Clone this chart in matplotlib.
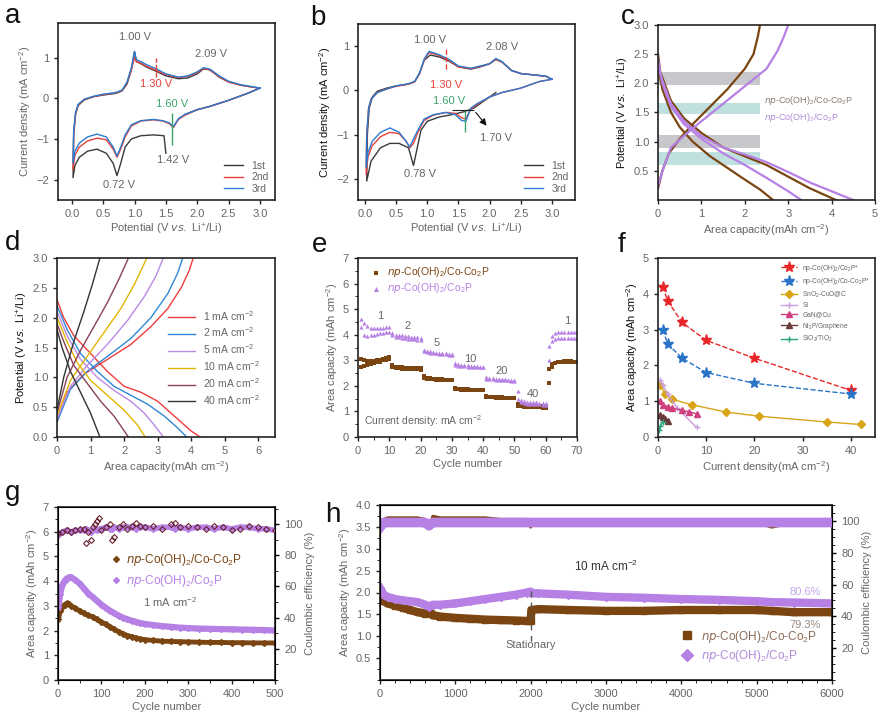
import matplotlib
matplotlib.use('Agg')
import matplotlib.pyplot as plt
from matplotlib.ticker import MultipleLocator, AutoMinorLocator

plt.rcParams['font.family'] = ['Liberation Sans', 'DejaVu Sans']
plt.rcParams['mathtext.default'] = 'regular'

W, H = 884, 727
GREY = '#666666'

# ---------------- panel a : CV of np-Co(OH)2/Co-Co2P ----------------
cv_v = [3.0, 2.8, 2.5, 2.2, 2.0, 1.8, 1.7, 1.62, 1.55, 1.45, 1.3, 1.1, 0.95, 0.85, 0.78, 0.72,
        0.66, 0.55, 0.4, 0.25, 0.12, 0.05, 0.02, 0.03, 0.06, 0.1, 0.2, 0.35, 0.5, 0.7, 0.8, 0.88,
        0.95, 1.0, 1.03, 1.1, 1.2, 1.35, 1.5, 1.7, 1.85, 2.0, 2.1, 2.2, 2.35, 2.5, 2.7, 2.9, 3.0]
a_2nd = [0.25, 0.12, -0.05, -0.2, -0.28, -0.42, -0.52, -0.72, -0.62, -0.56, -0.53, -0.56, -0.68,
         -0.95, -1.25, -1.45, -1.25, -1.02, -0.98, -1.05, -1.2, -1.4, -1.75, -0.85, -0.38, -0.17,
         -0.03, 0.04, 0.09, 0.13, 0.19, 0.38, 0.7, 1.0, 0.9, 0.86, 0.78, 0.68, 0.58, 0.51, 0.54,
         0.63, 0.73, 0.7, 0.53, 0.4, 0.32, 0.27, 0.25]
a_3rd = [0.25, 0.12, -0.05, -0.2, -0.28, -0.4, -0.5, -0.7, -0.6, -0.55, -0.52, -0.55, -0.65,
         -0.9, -1.2, -1.42, -1.2, -0.95, -0.88, -0.95, -1.1, -1.3, -1.6, -0.8, -0.35, -0.15,
         -0.02, 0.05, 0.1, 0.14, 0.2, 0.4, 0.75, 1.15, 0.95, 0.9, 0.82, 0.72, 0.6, 0.52, 0.55,
         0.65, 0.75, 0.72, 0.55, 0.42, 0.33, 0.28, 0.25]
a1_v = [1.5, 1.47, 1.3, 1.1, 0.95, 0.85, 0.78, 0.72, 0.66, 0.55, 0.4, 0.25, 0.12, 0.05, 0.02,
        0.03, 0.06, 0.1, 0.2, 0.35, 0.5, 0.7, 0.8, 0.88, 0.95, 1.0, 1.03, 1.1, 1.2, 1.35, 1.5,
        1.7, 1.85, 2.0, 2.1, 2.2, 2.35, 2.5, 2.7, 2.9, 3.0, 2.8, 2.5, 2.2, 2.0, 1.8]
a1_i = [-1.35, -0.92, -0.9, -0.92, -1.0, -1.2, -1.6, -1.9, -1.6, -1.35, -1.25, -1.3, -1.45,
        -1.65, -1.95, -0.9, -0.4, -0.18, -0.04, 0.04, 0.08, 0.12, 0.18, 0.35, 0.7, 1.15, 0.9,
        0.85, 0.76, 0.66, 0.55, 0.48, 0.5, 0.6, 0.72, 0.7, 0.52, 0.4, 0.32, 0.27, 0.25, 0.12,
        -0.05, -0.2, -0.28, -0.4]

# ---------------- panel b : CV of np-Co(OH)2/Co2P ----------------
b_2nd = [0.25, 0.2, 0.05, -0.05, -0.15, -0.32, -0.42, -0.65, -0.62, -0.52, -0.5, -0.56, -0.68,
         -0.95, -1.2, -1.3, -1.15, -0.98, -0.95, -1.05, -1.25, -1.5, -1.9, -1.0, -0.4, -0.2,
         -0.05, 0.03, 0.09, 0.14, 0.19, 0.38, 0.68, 0.8, 0.85, 0.83, 0.78, 0.68, 0.53, 0.49,
         0.54, 0.6, 0.7, 0.64, 0.45, 0.38, 0.35, 0.32, 0.25]
b_3rd = [0.25, 0.2, 0.05, -0.05, -0.15, -0.3, -0.4, -0.7, -0.68, -0.55, -0.5, -0.55, -0.65,
         -0.9, -1.1, -1.28, -1.15, -0.95, -0.85, -0.95, -1.15, -1.4, -1.75, -1.0, -0.4, -0.2,
         -0.05, 0.03, 0.1, 0.15, 0.2, 0.4, 0.7, 0.82, 0.88, 0.85, 0.8, 0.7, 0.55, 0.5, 0.55,
         0.6, 0.72, 0.65, 0.45, 0.38, 0.35, 0.32, 0.25]
b1_v = [2.1, 1.9, 1.75, 1.6, 1.4, 1.2, 1.0, 0.9, 0.84, 0.78, 0.7, 0.55, 0.4, 0.25, 0.1, 0.03,
        0.04, 0.07, 0.12, 0.2, 0.35, 0.5, 0.7, 0.8, 0.88, 0.95, 1.05, 1.2, 1.35, 1.5, 1.7, 1.85,
        2.0, 2.1, 2.2, 2.35, 2.5, 2.7, 2.9, 3.0]
b1_i = [-0.05, -0.25, -0.4, -0.48, -0.55, -0.6, -0.7, -0.9, -1.3, -1.7, -1.3, -1.2, -1.2, -1.3,
        -1.6, -2.05, -1.0, -0.4, -0.15, -0.02, 0.05, 0.1, 0.14, 0.2, 0.4, 0.68, 0.8, 0.75, 0.66,
        0.53, 0.48, 0.53, 0.6, 0.7, 0.64, 0.45, 0.38, 0.35, 0.32, 0.25]
cv_labels = ['1st', '2nd', '3rd']
cv_colors = ['#3a3a3a', '#e8413a', '#2b7bd0']

# ---------------- panel c : charge/discharge profiles ----------------
c_dis1_x = [0, 0.05, 0.15, 0.3, 0.6, 1.0, 1.5, 2.0, 2.5, 3.0, 3.5, 4.1]
c_dis1_y = [2.5, 2.2, 2.0, 1.7, 1.4, 1.15, 0.9, 0.75, 0.6, 0.4, 0.2, 0.0]
c_dis2_x = [0, 0.1, 0.3, 0.5, 0.8, 1.2, 1.6, 2.0, 2.35, 2.65]
c_dis2_y = [2.3, 1.9, 1.5, 1.25, 1.0, 0.75, 0.55, 0.35, 0.18, 0.0]
c_chg_x = [0, 0.1, 0.25, 0.5, 0.8, 1.2, 1.6, 2.0, 2.2, 2.3, 2.35]
c_chg_y = [0.2, 0.5, 0.8, 1.05, 1.3, 1.6, 1.9, 2.25, 2.5, 2.8, 3.0]
p_dis1_x = [0, 0.1, 0.3, 0.6, 1.0, 1.5, 2.0, 2.5, 3.0, 3.5, 4.0, 4.5]
p_dis1_y = [2.3, 2.05, 1.65, 1.35, 1.1, 0.9, 0.78, 0.65, 0.48, 0.3, 0.15, 0.0]
p_dis2_x = [0, 0.1, 0.3, 0.6, 1.0, 1.5, 2.0, 2.5, 3.0, 3.3]
p_dis2_y = [2.4, 2.0, 1.6, 1.3, 1.05, 0.8, 0.6, 0.38, 0.15, 0.0]
p_chg_x = [0, 0.15, 0.3, 0.6, 1.0, 1.5, 2.0, 2.5, 2.75, 2.9, 3.0]
p_chg_y = [0.25, 0.6, 0.9, 1.1, 1.35, 1.65, 1.95, 2.25, 2.55, 2.8, 3.0]
grey_bands = [(1.97, 2.2), (0.9, 1.12)]
teal_bands = [(1.47, 1.67), (0.6, 0.83)]

# ---------------- panel d : rate profiles ----------------
d_labels = ['1 mA cm$^{-2}$', '2 mA cm$^{-2}$', '5 mA cm$^{-2}$',
            '10 mA cm$^{-2}$', '20 mA cm$^{-2}$', '40 mA cm$^{-2}$']
d_colors = ['#f03c3c', '#2f86d6', '#b98ae6', '#e3b500', '#8a3f5a', '#333333']
d_dis_x = [[0, 0.2, 0.5, 1.0, 1.5, 2.0, 2.5, 3.0, 3.5, 4.0, 4.27],
           [0, 0.3, 0.7, 1.2, 1.7, 2.2, 2.7, 3.2, 3.6, 3.87],
           [0, 0.3, 0.7, 1.2, 1.7, 2.2, 2.6, 2.9, 3.17],
           [0, 0.3, 0.6, 1.0, 1.5, 2.0, 2.4, 2.63],
           [0, 0.2, 0.5, 0.9, 1.3, 1.7, 2.13],
           [0, 0.15, 0.4, 0.7, 1.0, 1.28]]
d_dis_y = [[2.3, 2.0, 1.7, 1.4, 1.1, 0.85, 0.75, 0.6, 0.35, 0.1, 0.0],
           [2.2, 1.8, 1.4, 1.1, 0.85, 0.7, 0.55, 0.35, 0.15, 0.0],
           [2.1, 1.7, 1.3, 1.0, 0.78, 0.6, 0.4, 0.2, 0.0],
           [2.0, 1.6, 1.25, 0.95, 0.7, 0.45, 0.2, 0.0],
           [1.9, 1.6, 1.2, 0.9, 0.6, 0.35, 0.0],
           [1.8, 1.5, 1.1, 0.75, 0.4, 0.0]]
d_chg_x = [[0, 0.3, 0.8, 1.5, 2.2, 2.8, 3.3, 3.7, 3.95, 4.06],
           [0, 0.4, 0.9, 1.5, 2.2, 2.8, 3.3, 3.6, 3.75],
           [0, 0.4, 0.9, 1.5, 2.1, 2.6, 2.95, 3.17],
           [0, 0.4, 0.9, 1.4, 1.9, 2.3, 2.68],
           [0, 0.3, 0.7, 1.1, 1.5, 1.85, 2.13],
           [0, 0.2, 0.5, 0.8, 1.05, 1.28]]
d_chg_y = [[0.25, 0.75, 1.05, 1.3, 1.55, 1.85, 2.15, 2.5, 2.8, 3.0],
           [0.25, 0.8, 1.1, 1.35, 1.65, 2.0, 2.4, 2.75, 3.0],
           [0.3, 0.85, 1.2, 1.55, 1.95, 2.35, 2.7, 3.0],
           [0.35, 0.95, 1.35, 1.75, 2.15, 2.55, 3.0],
           [0.4, 1.0, 1.45, 1.85, 2.25, 2.65, 3.0],
           [0.45, 1.0, 1.6, 2.1, 2.55, 3.0]]

# ---------------- panel e : rate capability ----------------
e_cycles = list(range(1, 71))
e_p_dis = [4.6, 4.45, 4.35, 4.28, 4.25, 4.25, 4.25, 4.28, 4.3, 4.3,
           4.05, 4.0, 4.0, 3.98, 3.95, 3.95, 3.92, 3.9, 3.9, 3.88,
           3.42, 3.38, 3.35, 3.33, 3.3, 3.3, 3.28, 3.27, 3.25, 3.25,
           2.88, 2.85, 2.82, 2.8, 2.8, 2.78, 2.78, 2.76, 2.75, 2.75,
           2.35, 2.32, 2.3, 2.28, 2.27, 2.26, 2.25, 2.24, 2.23, 2.22,
           1.8, 1.45, 1.4, 1.38, 1.36, 1.35, 1.35, 1.34, 1.33, 1.32,
           3.55, 3.95, 4.05, 4.1, 4.12, 4.12, 4.12, 4.12, 4.1, 4.1]
e_p_chg = [4.3, 4.0, 3.95, 3.98, 4.0, 4.02, 4.05, 4.07, 4.1, 4.12,
           4.0, 3.92, 3.9, 3.88, 3.87, 3.85, 3.84, 3.82, 3.8, 3.78,
           3.35, 3.32, 3.3, 3.28, 3.27, 3.26, 3.25, 3.24, 3.22, 3.2,
           2.8, 2.78, 2.77, 2.76, 2.75, 2.74, 2.74, 2.73, 2.72, 2.72,
           2.28, 2.26, 2.25, 2.24, 2.23, 2.22, 2.22, 2.21, 2.2, 2.2,
           1.5, 1.35, 1.32, 1.3, 1.3, 1.29, 1.28, 1.28, 1.27, 1.27,
           3.0, 3.75, 3.85, 3.87, 3.88, 3.88, 3.88, 3.87, 3.86, 3.85]
e_b_dis = [3.05, 3.0, 2.98, 2.97, 2.98, 3.0, 3.02, 3.05, 3.08, 3.12,
           2.8, 2.75, 2.73, 2.72, 2.71, 2.7, 2.7, 2.69, 2.68, 2.68,
           2.38, 2.32, 2.3, 2.28, 2.27, 2.26, 2.25, 2.24, 2.24, 2.23,
           1.92, 1.88, 1.87, 1.86, 1.86, 1.85, 1.85, 1.84, 1.84, 1.84,
           1.62, 1.58, 1.57, 1.56, 1.55, 1.55, 1.54, 1.54, 1.54, 1.53,
           1.28, 1.25, 1.24, 1.23, 1.23, 1.22, 1.22, 1.22, 1.21, 1.21,
           2.1, 2.75, 2.88, 2.92, 2.95, 2.96, 2.96, 2.96, 2.95, 2.95]
e_b_chg = [2.75, 2.78, 2.82, 2.85, 2.88, 2.92, 2.95, 3.0, 3.02, 3.05,
           2.72, 2.7, 2.68, 2.67, 2.66, 2.65, 2.65, 2.64, 2.64, 2.63,
           2.32, 2.28, 2.26, 2.25, 2.24, 2.23, 2.22, 2.22, 2.21, 2.21,
           1.88, 1.86, 1.85, 1.85, 1.84, 1.84, 1.83, 1.83, 1.83, 1.82,
           1.58, 1.56, 1.55, 1.54, 1.54, 1.53, 1.53, 1.53, 1.52, 1.52,
           1.22, 1.2, 1.18, 1.17, 1.17, 1.16, 1.16, 1.16, 1.15, 1.15,
           2.65, 2.85, 2.9, 2.92, 2.93, 2.93, 2.93, 2.93, 2.92, 2.92]
e_rates = ['1', '2', '5', '10', '20', '40', '1']
e_rate_x = [7, 16, 25, 36, 46, 56, 67]
e_rate_y = [4.62, 4.22, 3.55, 2.95, 2.45, 1.55, 4.42]

# ---------------- panel f : comparison ----------------
f_names = ['np-Co(OH)$_2$/Co$_2$P*', 'np-Co(OH)$_2$/Co-Co$_2$P*', 'SnO$_2$-CuO@C', 'Si',
           'GaN@Cu', 'Ni$_2$P/Graphene', 'SiO$_2$/TiO$_2$']
f_x = [[1, 2, 5, 10, 20, 40],
       [1, 2, 5, 10, 20, 40],
       [0.5, 1.5, 3, 7, 14, 21, 35, 42],
       [0.5, 1, 2, 4, 8],
       [0.5, 1, 2, 3, 5, 6.5, 8],
       [0.5, 1, 1.5, 2],
       [0.3, 0.5, 1.0]]
f_y = [[4.2, 3.8, 3.2, 2.7, 2.2, 1.3],
       [3.0, 2.6, 2.2, 1.8, 1.5, 1.2],
       [1.45, 1.2, 1.05, 0.9, 0.7, 0.58, 0.42, 0.35],
       [1.6, 1.45, 1.2, 0.8, 0.27],
       [1.0, 0.9, 0.85, 0.8, 0.75, 0.7, 0.65],
       [0.62, 0.55, 0.5, 0.45],
       [0.2, 0.3, 0.42]]
f_colors = ['#e8262a', '#2a74c8', '#d8a418', '#c9a0e0', '#d0407f', '#6b3a3a', '#2aa87a']
f_markers = ['*', '*', 'D', '+', '^', '^', '+']

# ---------------- panel g : cycling 1 mA ----------------
g_cyc = [1, 5, 10, 15, 20, 25, 30, 40, 50, 60, 70, 80, 90, 100, 110, 120, 130, 140, 150, 160,
         170, 180, 190, 200, 220, 240, 260, 280, 300, 325, 350, 375, 400, 425, 450, 475, 500]
g_brown = [2.45, 2.8, 2.95, 3.05, 3.1, 3.08, 3.0, 2.9, 2.8, 2.7, 2.62, 2.55, 2.45, 2.35, 2.25,
           2.15, 2.05, 1.95, 1.87, 1.8, 1.75, 1.7, 1.66, 1.63, 1.6, 1.57, 1.56, 1.55, 1.54,
           1.53, 1.52, 1.52, 1.51, 1.51, 1.5, 1.5, 1.5]
g_purple = [2.95, 3.5, 3.85, 4.0, 4.1, 4.15, 4.15, 4.05, 3.9, 3.7, 3.5, 3.35, 3.2, 3.05, 2.92,
            2.8, 2.7, 2.6, 2.52, 2.45, 2.4, 2.35, 2.3, 2.27, 2.22, 2.18, 2.15, 2.12, 2.1, 2.08,
            2.07, 2.06, 2.05, 2.04, 2.03, 2.02, 2.0]
g_ce_cyc = [1, 10, 20, 30, 40, 50, 60, 65, 70, 75, 80, 85, 90, 95, 100, 110, 120, 125, 130, 140,
            150, 160, 170, 180, 190, 200, 220, 240, 260, 270, 280, 300, 320, 340, 360, 380, 400,
            420, 440, 460, 480, 500]
g_ce_brown = [94, 95, 96, 95, 96, 97, 97, 88, 95, 90, 98, 100, 102, 104, 96, 98, 100, 90, 92, 98,
              100, 97, 99, 101, 99, 98, 99, 97, 100, 101, 98, 99, 98, 97, 99, 98, 96, 97, 99,
              98, 97, 96]
g_ce_purple = [93, 95, 96, 95, 96, 96, 96, 97, 96, 95, 96, 97, 96, 97, 97, 98, 97, 97, 98, 97,
               98, 98, 98, 97, 98, 98, 97, 98, 98, 97, 98, 97, 98, 98, 97, 98, 97, 98, 98, 97,
               97, 96]

# ---------------- panel h : long cycling 10 mA ----------------
h_cyc = [0, 50, 100, 200, 300, 400, 500, 600, 650, 700, 800, 1000, 1200, 1400, 1600, 1800,
         1950, 2000, 2010, 2100, 2500, 3000, 3500, 4000, 4500, 5000, 5200, 5500, 6000]
h_brown = [1.9, 1.8, 1.75, 1.7, 1.65, 1.6, 1.55, 1.52, 1.62, 1.48, 1.45, 1.42, 1.4, 1.38, 1.37,
           1.36, 1.35, 1.35, 1.6, 1.62, 1.6, 1.58, 1.58, 1.6, 1.6, 1.6, 1.58, 1.55, 1.55]
h_purple = [2.1, 1.95, 1.9, 1.85, 1.82, 1.8, 1.78, 1.72, 1.68, 1.72, 1.72, 1.75, 1.8, 1.85, 1.9,
            1.95, 2.0, 2.02, 1.98, 1.98, 1.95, 1.9, 1.88, 1.85, 1.83, 1.8, 1.78, 1.77, 1.75]
h_ce_brown = [100, 101, 102, 102, 102, 102, 102, 101, 95, 103, 102, 102, 102, 102, 101, 101,
              101, 96, 99, 99, 99, 99, 99, 99, 99, 99, 96, 99, 99]
h_ce_purple = [96, 99, 99, 99, 99, 99, 99, 99, 97, 99, 99, 99, 99, 99, 99, 99, 99, 99, 99, 99,
               99, 99, 99, 99, 99, 99, 99, 99, 99]

BROWN = '#7b4512'
PURPLE = '#b680e4'
NP1 = r'$\mathit{np}$-Co(OH)$_2$/Co-Co$_2$P'
NP2 = r'$\mathit{np}$-Co(OH)$_2$/Co$_2$P'


def box(l, t, r, b):
    return [l / W, 1 - b / H, (r - l) / W, (b - t) / H]


def style(ax, xlabel, ylabel, ylcolor=GREY):
    ax.tick_params(labelsize=8, colors='#222222', labelcolor=GREY, width=1, length=3)
    ax.set_xlabel(xlabel, fontsize=8, color=GREY, labelpad=2)
    ax.set_ylabel(ylabel, fontsize=8, color=ylcolor, labelpad=2)
    for s in ax.spines.values():
        s.set_linewidth(1.2)
        s.set_color('#222222')


fig = plt.figure(figsize=(W / 100, H / 100), dpi=100)

# ---- a ----
ax = fig.add_axes(box(58, 23, 275, 200))
ax.plot(a1_v, a1_i, color=cv_colors[0], lw=1, label=cv_labels[0])
ax.plot(cv_v, a_2nd, color=cv_colors[1], lw=1, label=cv_labels[1])
ax.plot(cv_v, a_3rd, color=cv_colors[2], lw=1, label=cv_labels[2])
ax.set_xlim(-0.22, 3.24)
ax.set_ylim(-2.5, 1.85)
ax.set_xticks([0, 0.5, 1, 1.5, 2, 2.5, 3])
ax.set_xticklabels(['0.0', '0.5', '1.0', '1.5', '2.0', '2.5', '3.0'])
ax.set_yticks([-2, -1, 0, 1])
ax.vlines(1.35, 0.52, 1.0, color=cv_colors[1], lw=1, linestyles='--')
ax.vlines(1.6, -1.15, -0.35, color='#3aa36a', lw=1)
ax.text(1.0, 1.42, '1.00 V', fontsize=8, color=GREY, ha='center')
ax.text(2.22, 1.02, '2.09 V', fontsize=8, color=GREY, ha='center')
ax.text(1.35, 0.28, '1.30 V', fontsize=8, color='#e8413a', ha='center')
ax.text(1.6, -0.22, '1.60 V', fontsize=8, color='#3aa36a', ha='center')
ax.text(1.62, -1.6, '1.42 V', fontsize=8, color=GREY, ha='center')
ax.text(0.75, -2.2, '0.72 V', fontsize=8, color=GREY, ha='center')
ax.legend(loc='lower right', frameon=False, fontsize=7.5, handlelength=1.8,
          labelspacing=0.15, labelcolor=GREY, borderaxespad=0.2)
style(ax, r'Potential (V $\mathit{vs.}$ Li$^{+}$/Li)', 'Current density (mA cm$^{-2}$)')

# ---- b ----
ax = fig.add_axes(box(358, 24, 575, 200))
ax.plot(b1_v, b1_i, color=cv_colors[0], lw=1, label=cv_labels[0])
ax.plot(cv_v, b_2nd, color=cv_colors[1], lw=1, label=cv_labels[1])
ax.plot(cv_v, b_3rd, color=cv_colors[2], lw=1, label=cv_labels[2])
ax.set_xlim(-0.11, 3.37)
ax.set_ylim(-2.48, 1.5)
ax.set_xticks([0, 0.5, 1, 1.5, 2, 2.5, 3])
ax.set_xticklabels(['0.0', '0.5', '1.0', '1.5', '2.0', '2.5', '3.0'])
ax.set_yticks([-2, -1, 0, 1])
ax.vlines(1.3, 0.48, 0.95, color=cv_colors[1], lw=1, linestyles='--')
ax.vlines(1.6, -0.95, -0.45, color='#3aa36a', lw=1)
ax.hlines(-0.45, 1.4, 1.75, color='#222222', lw=0.8)
ax.annotate('', xy=(1.98, -0.85), xytext=(1.75, -0.45),
            arrowprops=dict(arrowstyle='-|>', color='#111111', lw=0.8))
ax.text(1.05, 1.08, '1.00 V', fontsize=8, color=GREY, ha='center')
ax.text(2.2, 0.92, '2.08 V', fontsize=8, color=GREY, ha='center')
ax.text(1.3, 0.05, '1.30 V', fontsize=8, color='#e8413a', ha='center')
ax.text(1.35, -0.3, '1.60 V', fontsize=8, color='#3aa36a', ha='center')
ax.text(2.1, -1.15, '1.70 V', fontsize=8, color=GREY, ha='center')
ax.text(0.88, -1.95, '0.78 V', fontsize=8, color=GREY, ha='center')
ax.legend(loc='lower right', frameon=False, fontsize=7.5, handlelength=1.8,
          labelspacing=0.15, labelcolor=GREY, borderaxespad=0.2)
style(ax, r'Potential (V $\mathit{vs.}$ Li$^{+}$/Li)', 'Current density (mA cm$^{-2}$)',
      ylcolor='#111111')

# ---- c ----
ax = fig.add_axes(box(658, 25, 875, 200))
for lo, hi in grey_bands:
    ax.fill_between([0, 2.35], lo, hi, color='#c8c8cc', lw=0)
for lo, hi in teal_bands:
    ax.fill_between([0, 2.35], lo, hi, color='#bfe0df', lw=0)
for xs, ys in [(c_dis1_x, c_dis1_y), (c_dis2_x, c_dis2_y), (c_chg_x, c_chg_y)]:
    ax.plot(xs, ys, color=BROWN, lw=1.6)
for xs, ys in [(p_dis1_x, p_dis1_y), (p_dis2_x, p_dis2_y), (p_chg_x, p_chg_y)]:
    ax.plot(xs, ys, color=PURPLE, lw=1.6)
ax.text(2.45, 1.71, NP1, fontsize=6.5, color='#8a7a72', va='center')
ax.text(2.45, 1.42, NP2, fontsize=6.5, color='#b08ad8', va='center')
ax.set_xlim(0, 5)
ax.set_ylim(0, 3)
ax.set_yticks([0.5, 1.0, 1.5, 2.0, 2.5, 3.0])
ax.set_yticklabels(['0.5', '1.0', '1.5', '2.0', '2.5', '3.0'])
style(ax, 'Area capacity(mAh cm$^{-2}$)', r'Potential (V $\mathit{vs.}$ Li$^{+}$/Li)',
      ylcolor='#111111')

# ---- d ----
ax = fig.add_axes(box(57, 258, 275, 437))
for i in range(6):
    ax.plot(d_dis_x[i], d_dis_y[i], color=d_colors[i], lw=1, label=d_labels[i])
    ax.plot(d_chg_x[i], d_chg_y[i], color=d_colors[i], lw=1)
ax.set_xlim(0, 6.5)
ax.set_ylim(0, 3)
ax.set_xticks(range(7))
ax.set_yticks([0, 0.5, 1, 1.5, 2, 2.5, 3])
ax.set_yticklabels(['0.0', '0.5', '1.0', '1.5', '2.0', '2.5', '3.0'])
ax.legend(loc='upper left', bbox_to_anchor=(0.49, 0.74), frameon=False, fontsize=7.5,
          handlelength=2.6, labelspacing=0.3, labelcolor=GREY, borderaxespad=0)
style(ax, 'Area capacity(mAh cm$^{-2}$)', r'Potential (V $\mathit{vs.}$ Li$^{+}$/Li)',
      ylcolor='#111111')

# ---- e ----
ax = fig.add_axes(box(358, 258, 577, 437))
ax.scatter(e_cycles, e_b_dis, s=7, marker='s', color=BROWN, lw=0, label=NP1)
ax.scatter(e_cycles, e_b_chg, s=7, marker='s', color=BROWN, lw=0)
ax.scatter(e_cycles, e_p_dis, s=9, marker='^', color=PURPLE, lw=0, label=NP2)
ax.scatter(e_cycles, e_p_chg, s=9, marker='^', color=PURPLE, lw=0)
for t, x, y in zip(e_rates, e_rate_x, e_rate_y):
    ax.text(x, y, t, fontsize=8, color=GREY, ha='center')
ax.text(2, 0.45, 'Current density: mA cm$^{-2}$', fontsize=7.5, color=GREY)
ax.set_xlim(0, 70)
ax.set_ylim(0, 7)
ax.set_xticks(range(0, 71, 10))
ax.xaxis.set_minor_locator(AutoMinorLocator(2))
ax.yaxis.set_minor_locator(AutoMinorLocator(2))
ax.legend(loc='upper left', frameon=False, fontsize=7.5, handletextpad=0.1, markerscale=1.2,
          labelspacing=0.2, labelcolor=[BROWN, PURPLE], borderaxespad=0.3)
style(ax, 'Cycle number', 'Area capacity (mAh cm$^{-2}$)')

# ---- f ----
ax = fig.add_axes(box(658, 258, 875, 437))
for i in range(7):
    ms = 8 if f_markers[i] == '*' else 4
    ls = '--' if i < 2 else '-'
    ax.plot(f_x[i], f_y[i], color=f_colors[i], marker=f_markers[i], ms=ms, lw=1, ls=ls,
            label=f_names[i])
ax.set_xlim(0, 45)
ax.set_ylim(0, 5)
ax.set_xticks([0, 10, 20, 30, 40])
ax.legend(loc='upper right', frameon=False, fontsize=4.8, handlelength=2.4,
          labelspacing=0.35, labelcolor=GREY, borderaxespad=0.3)
style(ax, 'Current density(mA cm$^{-2}$)', 'Area capacity (mAh cm$^{-2}$)', ylcolor='#111111')

# ---- g ----
ax = fig.add_axes(box(58, 507, 275, 680))
ax.plot(g_cyc, g_brown, color=BROWN, lw=3.5, marker='D', ms=3, label=NP1)
ax.plot(g_cyc, g_purple, color=PURPLE, lw=4.5, marker='D', ms=3, label=NP2)
ax.set_xlim(0, 500)
ax.set_ylim(0, 7)
ax.xaxis.set_minor_locator(AutoMinorLocator(2))
ax.yaxis.set_minor_locator(AutoMinorLocator(2))
ax.text(258, 2.95, '1 mA cm$^{-2}$', fontsize=8, color=GREY, ha='center')
leg = ax.legend(loc='upper left', bbox_to_anchor=(0.2, 0.8), frameon=False, fontsize=8.5,
                handlelength=0.6, handletextpad=0.6, labelspacing=0.4,
                labelcolor=[BROWN, PURPLE])
for h in leg.legend_handles:
    h.set_linewidth(0)
style(ax, 'Cycle number', 'Area capacity (mAh cm$^{-2}$)')
ax2 = ax.twinx()
ax2.plot(g_ce_cyc, g_ce_purple, color=PURPLE, lw=4, marker='D', ms=3)
ax2.plot(g_ce_cyc, g_ce_brown, ls='none', marker='D', ms=3, mfc='none', mec='#6a1f2e', mew=0.8)
ax2.set_ylim(0, 111)
ax2.set_yticks([20, 40, 60, 80, 100])
ax2.yaxis.set_minor_locator(AutoMinorLocator(2))
ax2.tick_params(labelsize=8, labelcolor=GREY, width=1, length=3)
ax2.set_ylabel('Coulombic efficiency (%)', fontsize=8, color=GREY, labelpad=2)

# ---- h ----
ax = fig.add_axes(box(380, 505, 832, 680))
ax.plot(h_cyc, h_brown, color=BROWN, lw=6, marker='s', ms=4, label=NP1)
ax.plot(h_cyc, h_purple, color=PURPLE, lw=6, marker='D', ms=4, label=NP2)
ax.vlines(2000, 0.9, 2.1, color='#555555', lw=1, linestyles=(0, (4, 4)))
ax.text(2000, 0.72, 'Stationary', fontsize=8, color=GREY, ha='center')
ax.text(3000, 2.5, '10 mA cm$^{-2}$', fontsize=8.5, color='#333333', ha='center')
ax.text(5850, 1.95, '80.6%', fontsize=8, color='#c3a6e6', ha='right')
ax.text(5850, 1.2, '79.3%', fontsize=8, color='#9a8a80', ha='right')
ax.set_xlim(0, 6000)
ax.set_ylim(0, 4)
ax.set_yticks([0.5, 1.0, 1.5, 2.0, 2.5, 3.0, 3.5, 4.0])
ax.set_yticklabels(['0.5', '1.0', '1.5', '2.0', '2.5', '3.0', '3.5', '4.0'])
ax.xaxis.set_minor_locator(AutoMinorLocator(5))
ax.yaxis.set_minor_locator(AutoMinorLocator(2))
leg = ax.legend(loc='lower right', bbox_to_anchor=(0.99, 0.03), frameon=False, fontsize=8.5,
                handlelength=0.8, handletextpad=0.8, labelspacing=0.3,
                labelcolor=['#8a6a55', '#b08ad8'], markerscale=1.6)
for h in leg.legend_handles:
    h.set_linewidth(0)
style(ax, 'Cycle number', 'Area capacity (mAh cm$^{-2}$)')
ax2 = ax.twinx()
ax2.plot(h_cyc, h_ce_brown, color=BROWN, lw=2)
ax2.plot(h_cyc, h_ce_purple, color=PURPLE, lw=7)
ax2.set_ylim(0, 110)
ax2.set_yticks([20, 40, 60, 80, 100])
ax2.yaxis.set_minor_locator(AutoMinorLocator(4))
ax2.tick_params(labelsize=8, labelcolor=GREY, width=1, length=3)
ax2.set_ylabel('Coulombic efficiency (%)', fontsize=8, color=GREY, labelpad=2)

# panel letters
for letter, x, y in [('a', 5, 23), ('b', 310, 25), ('c', 621, 24), ('d', 5, 250),
                     ('e', 312, 252), ('f', 618, 252), ('g', 5, 500), ('h', 325, 522)]:
    fig.text(x / W, 1 - y / H, letter, fontsize=20, va='baseline', ha='left', color='#111111')

fig.savefig('out.png', dpi=100)
